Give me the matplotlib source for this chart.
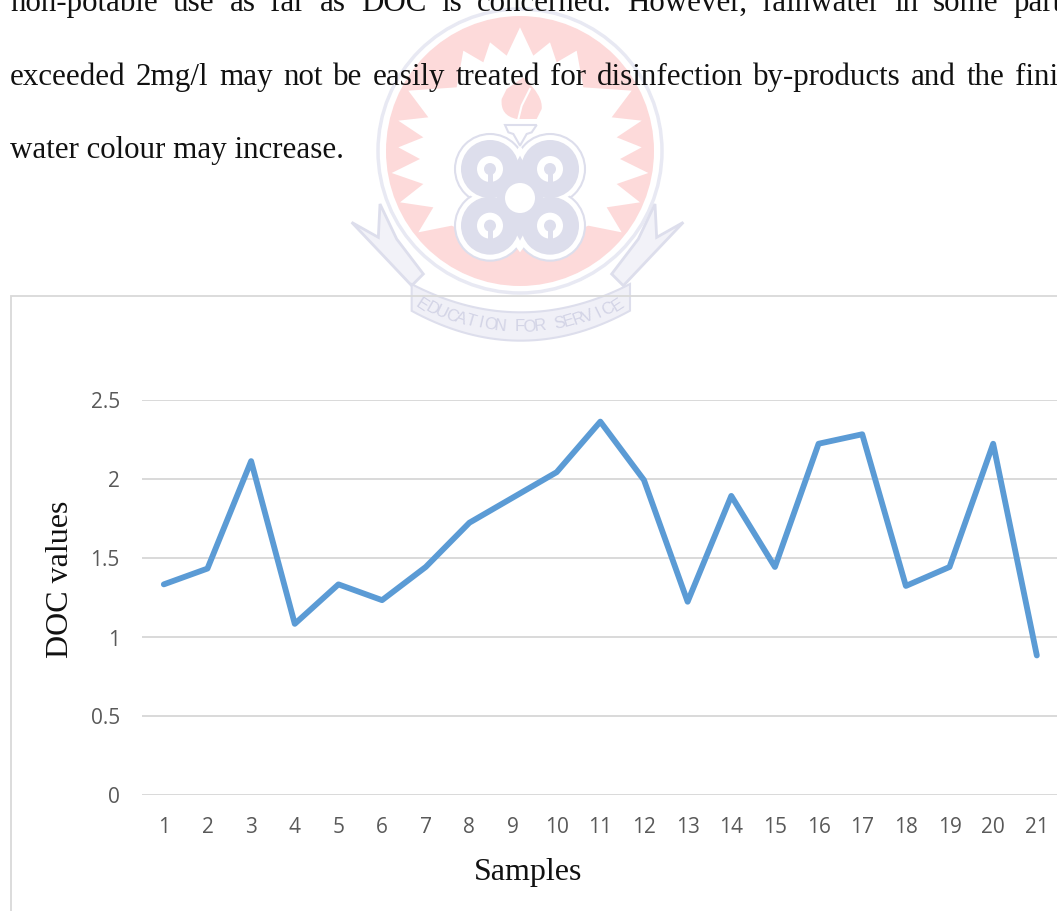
import matplotlib
matplotlib.use("Agg")
import matplotlib.pyplot as plt
from matplotlib.patches import Ellipse, Polygon, Circle, PathPatch, Rectangle
from matplotlib.path import Path
import numpy as np

# values
samples = list(range(1, 22))
doc_values = [1.33, 1.43, 2.11, 1.08, 1.33, 1.23, 1.44, 1.72, 1.88, 2.04, 2.36,
              1.99, 1.22, 1.89, 1.44, 2.22, 2.28, 1.32, 1.44, 2.22, 0.88]
y_ticks = [0, 0.5, 1, 1.5, 2, 2.5]
y_tick_labels = ["0", "0.5", "1", "1.5", "2", "2.5"]
body_lines = [
    "non-potable use as far as DOC is concerned. However, rainwater in some part",
    "exceeded 2mg/l may not be easily treated for disinfection by-products and the fini",
    "water colour may increase.",
]

W, H = 1057, 912
fig = plt.figure(figsize=(W / 100, H / 100), dpi=100, facecolor="white")

# layer in pixel coordinates for the page: watermark, text, chart frame
page = fig.add_axes([0, 0, 1, 1], zorder=0)
page.set_xlim(0, W)
page.set_ylim(H, 0)
page.axis("off")

PINK = "#fddada"
BLUE = "#dddeec"
RIM = "#e8e9f3"


def zp(pts):
    # outline points measured on a 3x crop starting at x=340
    return [(340 + x / 3, y / 3) for x, y in pts]


# watermark: ring, pink disc, white sunburst
page.add_patch(Ellipse((520, 152), 284, 284, fc="white", ec=RIM, lw=2.5))
page.add_patch(Ellipse((520, 152), 268, 270, fc=PINK, ec="none"))
half = [(540, 85), (580, 170), (630, 130), (650, 190), (710, 155), (730, 265), (875, 275), (815, 355),
        (905, 365), (830, 415), (905, 445), (840, 480), (925, 522), (830, 555), (900, 610),
        (800, 625), (845, 700), (745, 680), (700, 700)]
star = half + [(1080 - x, y) for x, y in reversed(half[1:])]
page.add_patch(Polygon(zp(star), fc="white", ec="none"))

# flame and cup
flame = Path(zp([(550, 235), (610, 290), (605, 330), (590, 360), (530, 360), (480, 350), (485, 300), (500, 270), (550, 235)]),
             [Path.MOVETO, Path.CURVE3, Path.CURVE3, Path.LINETO, Path.LINETO, Path.CURVE3, Path.CURVE3,
              Path.LINETO, Path.LINETO])
page.add_patch(PathPatch(flame, fc=PINK, ec="none"))
page.plot(*zip(*zp([(570, 270), (545, 320), (535, 360)])), color="white", lw=1.5)
page.add_patch(Polygon(zp([(495, 378), (590, 378), (575, 400), (560, 405), (540, 440), (520, 405), (505, 400)]),
                       fc="white", ec=BLUE, lw=1.5))

# watermark: four lobes
lobes = [(450, 510), (630, 510), (450, 680), (630, 680)]
for x, y in zp(lobes):
    page.add_patch(Circle((x, y), 35, fc="white", ec=BLUE, lw=1.5))
for x, y in zp(lobes):
    page.add_patch(Circle((x, y), 33, fc="white", ec="none"))
page.add_patch(Polygon(zp([(540, 440), (660, 597), (540, 760), (420, 597)]), fc="white", ec="none"))
for x, y in zp(lobes):
    page.add_patch(Circle((x, y), 29, fc=BLUE, ec="none"))
page.add_patch(Polygon(zp([(470, 597), (540, 470), (610, 597), (540, 725)]), fc=BLUE, ec="none"))
for x, y in zp(lobes):
    page.add_patch(Circle((x, y), 13, fc="white", ec="none"))
    page.add_patch(Circle((x, y), 6, fc=BLUE, ec="none"))
    page.add_patch(Rectangle((x - 2.5, y), 5, 15, fc=BLUE, ec="none"))
page.add_patch(Circle(zp([(540, 597)])[0], 15, fc="white", ec="none"))

# watermark: banner
left_wing = [(35, 670), (115, 715), (120, 615), (170, 720), (250, 825), (215, 860), (130, 770)]
right_wing = [(1065 - x, y) for x, y in left_wing]
page.add_patch(Polygon(zp(left_wing), fc="#f2f2f8", ec=BLUE, lw=2))
page.add_patch(Polygon(zp(right_wing), fc="#f2f2f8", ec=BLUE, lw=2))
band_x = np.linspace(215, 870, 40)
band_t = (band_x - 542) / 328
band_top = 940 - 85 * band_t ** 2
band_bot = 1025 - 90 * band_t ** 2
page.add_patch(Polygon(zp(list(zip(band_x, band_top)) + list(zip(band_x[::-1], band_bot[::-1]))),
                       fc="#f0f0f7", ec=BLUE, lw=1.5))
banner = "EDUCATION FOR SERVICE"
for i, ch in enumerate(banner):
    t = -1 + 2 * i / (len(banner) - 1)
    page.text(520 + 98 * t, 327 - 22 * t ** 2, ch, fontsize=12, color="#d3d4e6",
              family="Liberation Sans", rotation=33 * t, ha="center", va="center")

# body text above the chart, justified by hand like the page it came from
serif = "Liberation Serif"
FS = 22.3
rend = fig.canvas.get_renderer()


def put_line(line, y, end=None):
    words = line.split(" ")
    if end is None:
        page.text(10, y, line, fontsize=FS, family=serif, color="#111111", va="baseline")
        return
    arts = [page.text(0, y, w, fontsize=FS, family=serif, color="#111111", va="baseline") for w in words]
    widths = [a.get_window_extent(rend).width for a in arts]
    gap = (end - 10 - sum(widths)) / (len(words) - 1)
    x = 10
    for a, w in zip(arts, widths):
        a.set_x(x)
        x += w + gap


put_line(body_lines[0], 11, end=1062)
put_line(body_lines[1], 85, end=1058)
put_line(body_lines[2], 158)

# chart frame, runs off the right and bottom of the page
page.plot([11, 11, W], [H, 297, 297], color="#d9d9d9", lw=1.3, solid_joinstyle="miter")

# chart
left, right, top, bottom = 142, W, 400.5, 795.5
ax = fig.add_axes([left / W, 1 - bottom / H, (right - left) / W, (bottom - top) / H], zorder=1)
ax.patch.set_alpha(0)
ax.plot(samples, doc_values, color="#5b9bd5", lw=4.2, solid_capstyle="round",
        solid_joinstyle="round", clip_on=False, zorder=3)
ax.set_xlim(0.5, 0.5 + (right - left) / 43.65)
ax.set_ylim(0, 2.5)
ax.set_xticks(samples)
ax.set_yticks(y_ticks)
ax.set_yticklabels(y_tick_labels)
ax.grid(axis="y", color="#d9d9d9", lw=1.4)
ax.set_axisbelow(True)
for s in ax.spines.values():
    s.set_visible(False)
ax.tick_params(length=0, labelsize=15, labelcolor="#595959", labelfontfamily="Open Sans")
ax.tick_params(axis="x", pad=15.5)
ax.tick_params(axis="y", pad=16)

page.text(528, 873, "Samples", fontsize=23, family=serif, color="#111111", ha="center", va="center")
page.text(60, 579, "DOC values", fontsize=23, family=serif, color="#111111", rotation=90,
          ha="center", va="center")

fig.savefig("out.png", dpi=100)
